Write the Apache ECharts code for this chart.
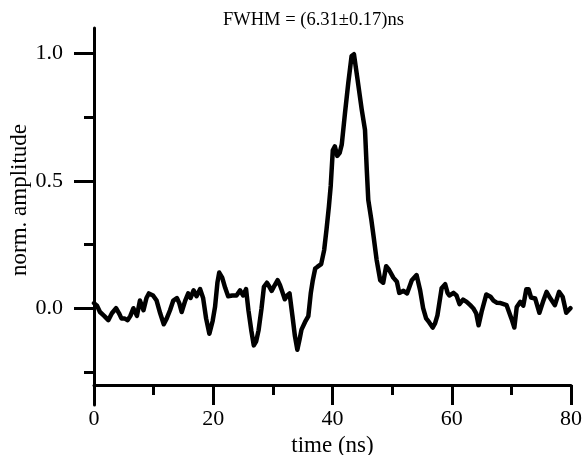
<!DOCTYPE html>
<html>
<head>
<meta charset="utf-8">
<script src="https://cdn.jsdelivr.net/npm/echarts@6/dist/echarts.min.js"></script>
<style>html,body{margin:0;padding:0;background:#fff}#c{width:584px;height:455px}</style>
</head>
<body>
<div id="c"></div>
<script>
var times = [0.0,0.5,1.0,1.7,2.4,3.0,3.7,4.2,4.6,5.1,5.65,6.1,6.6,7.2,7.7,8.3,8.8,9.2,9.9,10.5,11.1,11.7,12.2,12.75,13.3,13.9,14.3,14.7,15.3,15.8,16.2,16.7,17.2,17.8,18.3,18.8,19.35,19.9,20.3,20.7,21.0,21.5,22.0,22.5,23.2,23.9,24.5,25.0,25.5,25.9,26.4,26.8,27.2,27.6,28.1,28.5,29.0,29.4,29.8,30.3,30.8,31.2,31.5,32.0,32.4,32.8,33.3,33.7,34.1,34.5,34.8,35.4,35.95,36.35,36.7,37.1,37.5,38.1,38.6,39.0,39.4,39.7,40.05,40.4,40.8,41.2,41.55,42.1,42.65,43.2,43.6,44.2,44.9,45.45,45.75,46.0,46.5,46.9,47.4,48.0,48.5,49.0,49.5,50.2,50.8,51.2,51.9,52.5,53.3,54.1,54.7,55.2,55.7,56.2,56.8,57.2,57.6,58.3,58.9,59.3,59.6,60.3,60.8,61.3,61.9,62.5,63.1,63.6,64.1,64.5,65.0,65.8,66.5,67.0,67.6,68.2,69.2,70.0,70.5,70.9,71.5,72.0,72.5,72.9,73.3,74.0,74.7,75.3,75.9,76.5,77.3,78.0,78.6,79.2,79.9];
var amplitude = [0.02,0.01,-0.015,-0.03,-0.047,-0.02,0.0,-0.02,-0.04,-0.04,-0.047,-0.03,0.0,-0.03,0.03,-0.008,0.04,0.058,0.05,0.03,-0.02,-0.063,-0.04,-0.008,0.03,0.04,0.02,-0.015,0.03,0.058,0.04,0.07,0.047,0.075,0.04,-0.04,-0.10,-0.05,0.005,0.1,0.14,0.12,0.08,0.047,0.05,0.05,0.07,0.05,0.075,-0.008,-0.09,-0.146,-0.13,-0.087,0.0,0.084,0.1,0.085,0.068,0.09,0.11,0.09,0.07,0.035,0.05,0.058,-0.034,-0.11,-0.163,-0.12,-0.084,-0.054,-0.031,0.058,0.11,0.156,0.163,0.173,0.228,0.31,0.40,0.48,0.62,0.635,0.598,0.61,0.642,0.767,0.885,0.99,0.997,0.898,0.78,0.70,0.543,0.425,0.35,0.28,0.19,0.11,0.10,0.165,0.15,0.12,0.104,0.06,0.068,0.058,0.11,0.13,0.07,0.0,-0.04,-0.055,-0.076,-0.06,-0.028,0.078,0.094,0.06,0.05,0.06,0.05,0.016,0.034,0.025,0.012,0.0,-0.02,-0.067,-0.015,0.054,0.045,0.03,0.021,0.02,0.012,-0.04,-0.076,0.005,0.025,0.01,0.074,0.074,0.042,0.038,-0.018,0.025,0.064,0.04,0.012,0.064,0.045,-0.018,0.0];
var xTicks = [0,20,40,60,80];
var yLabels = [0,0.5,1.0];
var yMinorTicks = [-0.25,0.25,0.75];
var titleText = 'FWHM = (6.31\u00B10.17)ns';
var xName = 'time (ns)';
var yName = 'norm. amplitude';

var FONT = 'Liberation Serif';
var data = times.map(function(t,i){return [t, amplitude[i]];});
var chart = echarts.init(document.getElementById('c'), null, {renderer:'canvas'});
chart.setOption({
  animation:false,
  backgroundColor:'#fff',
  title:{text:titleText, left:218, top:6, textStyle:{fontFamily:FONT, fontSize:18.5, fontWeight:'normal', color:'#000'}},
  graphic:[{type:'text', x:20, y:200, rotation:Math.PI/2,
    style:{text:yName, fontFamily:FONT, fontSize:23, fill:'#000', align:'center', verticalAlign:'middle'}}],
  grid:{left:94, right:13, top:28, bottom:50, containLabel:false, outerBoundsMode:'none'},
  xAxis:{type:'value', min:0, max:80, interval:20, offset:-20,
    name:xName, nameLocation:'middle', nameGap:42,
    nameTextStyle:{fontFamily:FONT, fontSize:23, color:'#000'},
    axisLine:{show:true, onZero:false, lineStyle:{color:'#000', width:3}},
    axisTick:{show:true, inside:false, length:20, lineStyle:{color:'#000', width:3}},
    minorTick:{show:true, splitNumber:2, length:10, lineStyle:{color:'#000', width:3}},
    axisLabel:{fontFamily:FONT, fontSize:22, color:'#000', margin:23, customValues:xTicks},
    splitLine:{show:false}, minorSplitLine:{show:false}},
  yAxis:[{type:'value', min:-0.38, max:1.1,
    axisLine:{show:true, onZero:false, lineStyle:{color:'#000', width:3}},
    axisTick:{show:true, length:20, customValues:yLabels, lineStyle:{color:'#000', width:3}},
    axisLabel:{fontFamily:FONT, fontSize:22, color:'#000', margin:31, customValues:yLabels,
      formatter:function(v){return v.toFixed(1);}},
    splitLine:{show:false}},
   {type:'value', min:-0.38, max:1.1, position:'left',
    axisLine:{show:false, onZero:false},
    axisTick:{show:true, length:10, customValues:yMinorTicks, lineStyle:{color:'#000', width:3}},
    axisLabel:{show:false}, splitLine:{show:false}}],
  series:[{type:'line', data:data, showSymbol:false, symbol:'none', smooth:false,
    lineStyle:{color:'#000', width:4.5, join:'round', cap:'round'}, z:3}]
});
</script>
</body>
</html>
